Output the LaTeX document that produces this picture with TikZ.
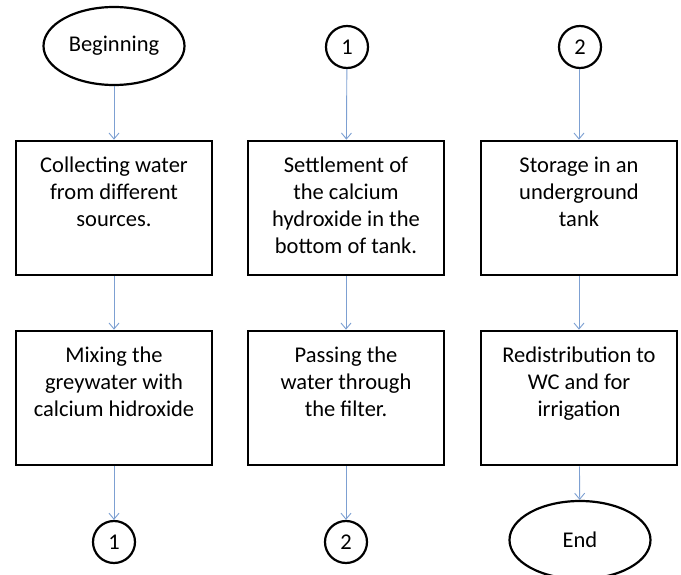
\documentclass[tikz,border=0pt]{standalone}
\usepackage{fontspec}
\setmainfont{Carlito}
\usetikzlibrary{shapes.geometric,arrows.meta}
\definecolor{flowblue}{RGB}{125,160,210}
\tikzset{
  x=1pt, y=-1pt,
  stepbox/.style={draw, line width=2.6pt, minimum width=196pt, minimum height=134pt, inner sep=0pt},
  boxtext/.style={anchor=north, align=center, font=\fontsize{22.5}{26.8}\selectfont, inner sep=0pt},
  terminal/.style={draw, ellipse, line width=2.2pt, minimum width=141pt, minimum height=78pt, inner sep=0pt, font=\fontsize{22.5}{26}\selectfont},
  connector/.style={draw, circle, line width=2.2pt, minimum size=42pt, inner sep=0pt, font=\fontsize{22.5}{26}\selectfont},
  flow/.style={draw=flowblue, line width=0.9pt, -{Straight Barb[length=6pt,width=10pt]}}
}
\begin{document}
\begin{tikzpicture}
\useasboundingbox (0,0) rectangle (681,575);
% column 1
\node[terminal] (begin) at (114,46) {Beginning};
\node[stepbox] (collect) at (114,208) {};
\node[boxtext] (collectT) at (114,157) {Collecting water\\from different\\sources.};
\node[stepbox] (mix) at (114,398) {};
\node[boxtext] (mixT) at (114,347) {Mixing the\\greywater with\\calcium hidroxide};
\node[connector] (outA) at (114,542) {1};
% column 2
\node[connector] (inA) at (347,47) {1};
\node[stepbox] (settle) at (346,208) {};
\node[boxtext] (settleT) at (346,157) {Settlement of\\the calcium\\hydroxide in the\\bottom of tank.};
\node[stepbox] (filter) at (346,398) {};
\node[boxtext] (filterT) at (346,347) {Passing the\\water through\\the filter.};
\node[connector] (outB) at (346,542) {2};
% column 3
\node[connector] (inB) at (580,47) {2};
\node[stepbox] (store) at (579,208) {};
\node[boxtext] (storeT) at (579,157) {Storage in an\\underground\\tank};
\node[stepbox] (redist) at (579,398) {};
\node[boxtext] (redistT) at (579,347) {Redistribution to\\WC and for\\irrigation};
\node[terminal] (finish) at (580,540) {End};
% connectors
\draw[flow] (begin) -- (collect);
\draw[flow] (collect) -- (mix);
\draw[flow] (mix) -- (outA);
\draw[flow] (inA) -- (settle);
\draw[flow] (settle) -- (filter);
\draw[flow] (filter) -- (outB);
\draw[flow] (inB.south -| store.north) -- (store);
\draw[flow] (store) -- (redist);
\draw[flow] (redist) -- (finish);
\end{tikzpicture}
\end{document}
